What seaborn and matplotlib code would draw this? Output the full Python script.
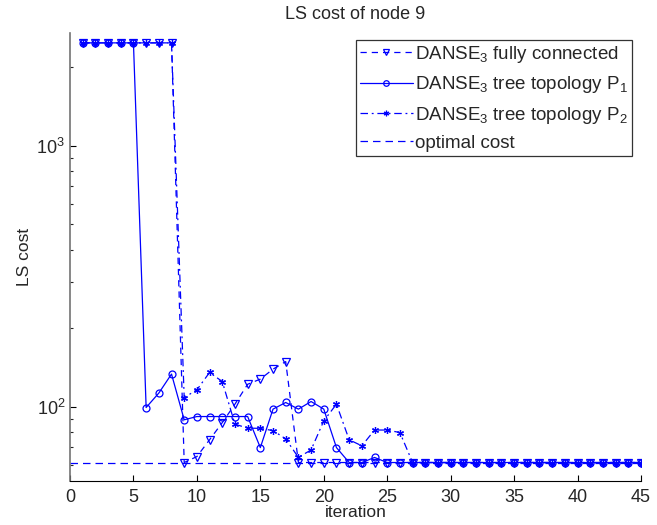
import numpy as np
import pandas as pd
import matplotlib
matplotlib.use("Agg")
import matplotlib.pyplot as plt
import seaborn as sns

# iterations 1..45
iterations = list(range(1, 46))

# DANSE3 fully connected (triangles, dashed)
fully_connected = [2475] * 8 + [61.2, 64.5, 74.8, 87.0, 102.4, 122.0, 127.7, 139.4, 149.0] + [61.2] * 28

# DANSE3 tree topology P1 (circles, solid)
tree_p1 = [2475] * 5 + [99.4, 112.9, 133.5, 89.2, 91.8, 91.8, 91.8, 91.8, 91.8, 69.8,
                        98.0, 103.9, 98.0, 104.8, 98.0, 69.8, 61.2, 61.2, 64.0] + [61.2] * 21

# DANSE3 tree topology P2 (stars, dash-dot)
tree_p2 = [2475] * 8 + [108.5, 116.2, 135.4, 125.0, 85.8, 82.9, 82.7, 81.1, 75.4, 64.0,
                        68.4, 88.4, 102.4, 74.8, 70.9, 81.5, 81.5, 79.7] + [61.2] * 19

optimal_x = [0, 45]
optimal_cost = [61.2, 61.2]

x_ticks = list(range(0, 50, 5))

sns.set_style("ticks")
plt.rcParams["font.family"] = ["Liberation Sans", "DejaVu Sans"]
plt.rcParams["mathtext.default"] = "regular"
plt.rcParams["xtick.direction"] = "in"
plt.rcParams["ytick.direction"] = "in"

blue = "#0000ff"
tick_fs = 13
label_fs = 12.5
ms = 5

fig = plt.figure(figsize=(6.57, 5.25), dpi=100)
ax = fig.add_axes([70 / 657, 1 - 481 / 525, (641 - 70) / 657, (481 - 33) / 525])

frame = pd.DataFrame({"iteration": iterations, "fc": fully_connected,
                      "p1": tree_p1, "p2": tree_p2})

sns.lineplot(data=frame, x="iteration", y="fc", ax=ax, color=blue, lw=0.9,
             linestyle=(0, (5, 4)), marker="v", markersize=ms + 1, markerfacecolor="none",
             markeredgecolor=blue, markeredgewidth=0.9,
             label=r"DANSE$_3$ fully connected")
sns.lineplot(data=frame, x="iteration", y="p1", ax=ax, color=blue, lw=0.9,
             linestyle="-", marker="o", markersize=ms, markerfacecolor="none",
             markeredgecolor=blue, markeredgewidth=0.9,
             label=r"DANSE$_3$ tree topology P$_1$")
sns.lineplot(data=frame, x="iteration", y="p2", ax=ax, color=blue, lw=0.9,
             linestyle=(0, (6, 3, 1.5, 3)), marker=(6, 2, 0), markersize=ms,
             markeredgecolor=blue, markeredgewidth=0.9,
             label=r"DANSE$_3$ tree topology P$_2$")
sns.lineplot(x=optimal_x, y=optimal_cost, ax=ax, color=blue, lw=0.9,
             linestyle=(0, (6, 4)), label="optimal cost")

ax.set_yscale("log")
ax.set_xlim(0, 45)
ax.set_ylim(52, 2700)
ax.set_xticks(x_ticks)
ax.tick_params(axis="both", labelsize=tick_fs, length=4, width=0.8, color="black")
ax.tick_params(axis="x", pad=6)
ax.tick_params(axis="y", which="minor", length=2.5, width=0.8)
ax.set_xlabel("iteration", fontsize=label_fs, labelpad=-1)
ax.set_ylabel("LS cost", fontsize=label_fs, labelpad=3)
ax.set_title("LS cost of node 9", fontsize=13, pad=10)

sns.despine(ax=ax)
ax.spines["left"].set_color("0.45")
ax.spines["left"].set_linewidth(1.2)
ax.spines["bottom"].set_color("black")
ax.spines["bottom"].set_linewidth(0.8)

leg = ax.legend(loc="upper right", bbox_to_anchor=(632 / 657, 1 - 40 / 525),
                bbox_transform=fig.transFigure, fontsize=13.5, frameon=True,
                fancybox=False, edgecolor="black", handlelength=2.8,
                handletextpad=0.15, borderpad=0.2, labelspacing=0.5,
                borderaxespad=0, markerscale=0.8)
leg.get_frame().set_linewidth(0.9)

fig.savefig("out.png", dpi=100)
